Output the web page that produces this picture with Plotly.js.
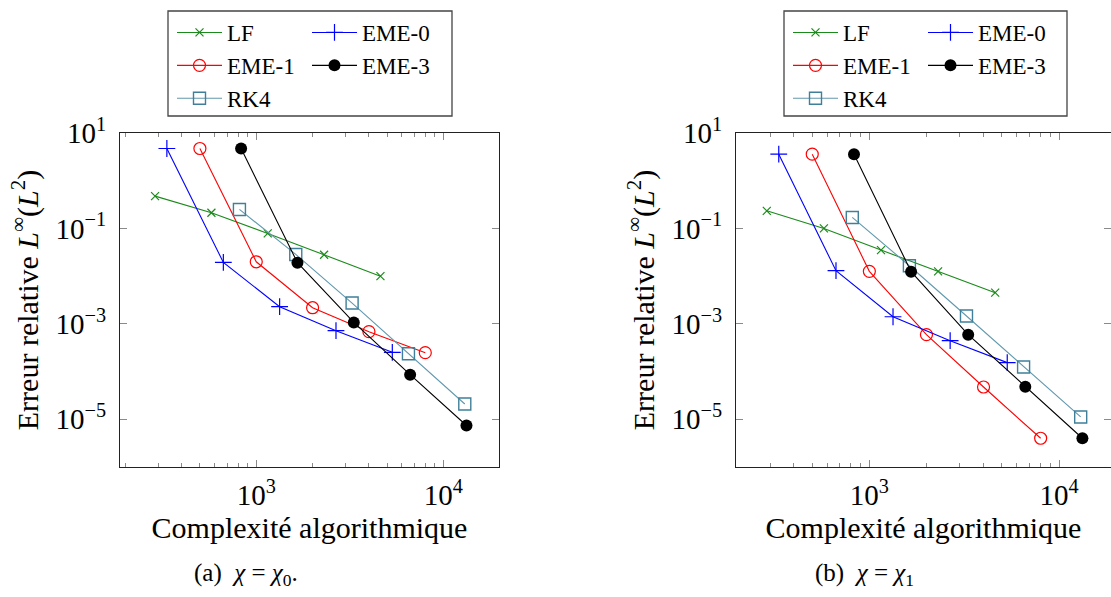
<!DOCTYPE html>
<html>
<head>
<meta charset="utf-8">
<script src="https://cdn.plot.ly/plotly-3.0.1.min.js"></script>
<style>html,body{margin:0;padding:0;background:#fff;overflow:hidden}#chart{width:1111px;height:597px}</style>
</head>
<body>
<div id="chart"></div>
<script>
// ---- data ----
const seriesNames = ['LF', 'EME-0', 'EME-1', 'EME-3', 'RK4'];

// x: algorithmic complexity
const lfX   = [288, 576, 1152, 2304, 4608];
const eme0X = [333, 667, 1333, 2667, 5333];
const eme1X = [500, 1000, 2000, 4000, 8000];
const eme3X = [830, 1660, 3320, 6640, 13280];
const rk4X  = [813, 1626, 3252, 6504, 13008];

// (a) chi = chi_0 : relative error
const lfA   = [0.475, 0.213, 0.0785, 0.0281, 0.0100];
const eme0A = [4.73, 0.0194, 0.00229, 0.00072, 0.000253];
const eme1A = [4.73, 0.0200, 0.00218, 0.000686, 0.000249];
const eme3A = [4.73, 0.0191, 0.00107, 0.000086, 0.0000074];
const rk4A  = [0.250, 0.0285, 0.00273, 0.000237, 0.0000209];

// (b) chi = chi_1 : relative error
const lfB   = [0.234, 0.100, 0.0352, 0.0126, 0.0045];
const eme0B = [3.60, 0.0130, 0.00141, 0.000444, 0.000154];
const eme1B = [3.60, 0.0126, 0.000593, 0.0000475, 0.0000040];
const eme3B = [3.60, 0.0124, 0.000593, 0.0000483, 0.0000040];
const rk4B  = [0.170, 0.0165, 0.00146, 0.000125, 0.0000112];

// tick labels
const xTickVals = [1000, 10000];
const xTickText = ['10<sup>3</sup>', '10<sup>4</sup>'];
const xMinorVals = [200, 300, 400, 500, 600, 700, 800, 900, 2000, 3000, 4000, 5000, 6000, 7000, 8000, 9000];
const yTickVals = [10, 0.1, 0.001, 0.00001];
const yTickText = ['10<sup>1</sup>', '10<sup>−1</sup>', '10<sup>−3</sup>', '10<sup>−5</sup>'];

const xTitle = 'Complexité algorithmique';
const yTitle = 'Erreur relative <i>L</i><sup>∞</sup>(<i>L</i><sup>2</sup>)';
const captionA = '(a)  <i>χ</i> = <i>χ</i><sub>0</sub>.';
const captionB = '(b)  <i>χ</i> = <i>χ</i><sub>1</sub>';

// ---- styling ----
const W = 1111, H = 597;
const px = v => v / W;
const py = v => 1 - v / H;
const FONT = 'Liberation Serif';

const styles = {
  'LF':    {color: '#1a8a1a', symbol: 'x-thin-open', size: 8, lw: 1.2, mlc: '#1a8a1a'},
  'EME-0': {color: '#0000ff', symbol: 'cross-thin-open', size: 12, lw: 1.2, mlc: '#0000ff'},
  'EME-1': {color: '#ff0000', symbol: 'circle-open', size: 12, lw: 1.2, mlc: '#ff0000'},
  'EME-3': {color: '#000000', symbol: 'circle', size: 12, lw: 0, mlc: '#000000'},
  'RK4':   {color: '#6198ae', symbol: 'square-open', size: 12, lw: 1.4, mlc: '#3f7f99'}
};

function mk(name, x, y, xa, ya, legend) {
  const s = styles[name];
  return {
    type: 'scatter', mode: 'lines+markers', name: name,
    x: x, y: y, xaxis: xa, yaxis: ya, legend: legend,
    line: {color: s.color, width: 1.1},
    marker: {symbol: s.symbol, size: s.size, color: name === 'RK4' ? s.mlc : s.color,
             line: {color: s.mlc, width: s.lw}},
    hoverinfo: 'x+y+name'
  };
}

const traces = [
  mk('LF', lfX, lfA, 'x', 'y', 'legend'),
  mk('EME-1', eme1X, eme1A, 'x', 'y', 'legend'),
  mk('RK4', rk4X, rk4A, 'x', 'y', 'legend'),
  mk('EME-0', eme0X, eme0A, 'x', 'y', 'legend2'),
  mk('EME-3', eme3X, eme3A, 'x', 'y', 'legend2'),
  mk('LF', lfX, lfB, 'x2', 'y2', 'legend3'),
  mk('EME-1', eme1X, eme1B, 'x2', 'y2', 'legend3'),
  mk('RK4', rk4X, rk4B, 'x2', 'y2', 'legend3'),
  mk('EME-0', eme0X, eme0B, 'x2', 'y2', 'legend4'),
  mk('EME-3', eme3X, eme3B, 'x2', 'y2', 'legend4')
];

function xAxis(domain, range, anchor) {
  return {
    type: 'log', domain: domain, range: range, anchor: anchor,
    showgrid: false, zeroline: false,
    showline: true, linecolor: '#222', linewidth: 1, mirror: 'ticks',
    tickmode: 'array', tickvals: xTickVals, ticktext: xTickText,
    ticks: 'inside', ticklen: 7, tickcolor: '#8a8a8a', tickwidth: 1,
    minor: {tickmode: 'array', tickvals: xMinorVals, ticks: 'inside', ticklen: 4, tickcolor: '#8a8a8a', tickwidth: 1, showgrid: false},
    tickfont: {family: FONT, size: 29, color: '#000'},
    ticklabelstandoff: 2,
    title: {text: xTitle, font: {family: FONT, size: 30, color: '#000'}, standoff: 0},
    automargin: false
  };
}
function yAxis(domain, anchor) {
  return {
    type: 'log', domain: domain, range: [-6, 1], anchor: anchor,
    showgrid: false, zeroline: false,
    showline: true, linecolor: '#222', linewidth: 1, mirror: 'ticks',
    tickmode: 'array', tickvals: yTickVals, ticktext: yTickText,
    ticks: 'inside', ticklen: 7, tickcolor: '#8a8a8a', tickwidth: 1,
    tickfont: {family: FONT, size: 29, color: '#000'},
    ticklabelstandoff: 7,
    title: {text: yTitle, font: {family: FONT, size: 30, color: '#000'}, standoff: 8},
    automargin: false
  };
}

const yDom = [py(467), py(133)];
function legendAt(x) {
  return {x: px(x), y: py(11), xanchor: 'left', yanchor: 'top',
          bgcolor: 'rgba(0,0,0,0)', borderwidth: 0,
          font: {family: FONT, size: 23, color: '#000'}, traceorder: 'normal',
          itemwidth: 45};
}

const layout = {
  width: W, height: H,
  margin: {l: 0, r: 0, t: 0, b: 0},
  paper_bgcolor: '#fff', plot_bgcolor: '#fff',
  font: {family: FONT},
  showlegend: true,
  xaxis: xAxis([px(120), px(499)], [2.272, 4.297], 'y'),
  yaxis: yAxis(yDom, 'x'),
  xaxis2: xAxis([px(736), 1], [2.297, 4.274], 'y2'),
  yaxis2: yAxis(yDom, 'x2'),
  legend: legendAt(172),
  legend2: legendAt(307),
  legend3: legendAt(788),
  legend4: legendAt(923),
  shapes: [
    {type: 'rect', xref: 'paper', yref: 'paper', x0: px(168), x1: px(452), y0: py(116), y1: py(11),
     line: {color: '#444', width: 1.3}, fillcolor: 'rgba(0,0,0,0)'},
    {type: 'rect', xref: 'paper', yref: 'paper', x0: px(784), x1: px(1067), y0: py(116), y1: py(11),
     line: {color: '#444', width: 1.3}, fillcolor: 'rgba(0,0,0,0)'}
  ],
  annotations: [
    {xref: 'paper', yref: 'paper', x: px(246), y: py(574), text: captionA, showarrow: false,
     xanchor: 'center', yanchor: 'middle', font: {family: FONT, size: 25, color: '#000'}},
    {xref: 'paper', yref: 'paper', x: px(864), y: py(574), text: captionB, showarrow: false,
     xanchor: 'center', yanchor: 'middle', font: {family: FONT, size: 25, color: '#000'}}
  ]
};

Plotly.newPlot('chart', traces, layout, {staticPlot: true, displayModeBar: false});
</script>
</body>
</html>
